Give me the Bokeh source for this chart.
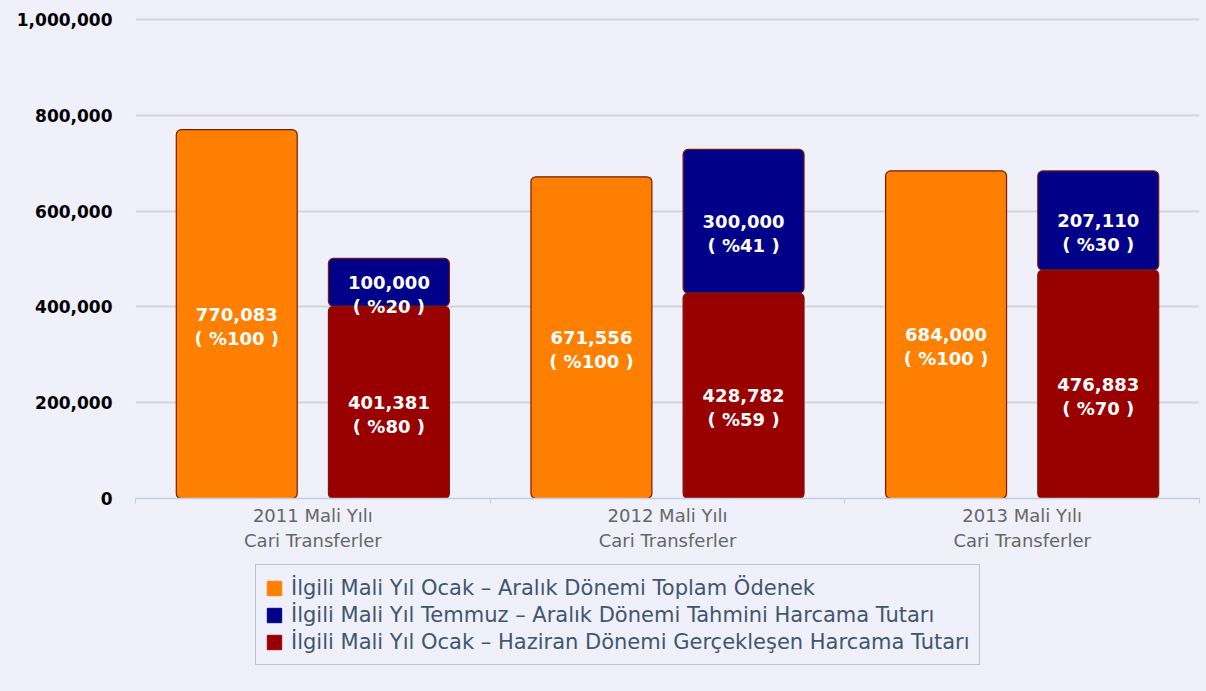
from bokeh.plotting import figure
from bokeh.layouts import column
from bokeh.models import (ColumnDataSource, FixedTicker, NumeralTickFormatter, Range1d,
                          Legend, LegendItem)
from bokeh.core.properties import value
from bokeh.embed import file_html
from bokeh.resources import INLINE

# ---- data ----
categories = ["2011 Mali Yılı\nCari Transferler", "2012 Mali Yılı\nCari Transferler", "2013 Mali Yılı\nCari Transferler"]
odenek = [770083, 671556, 684000]          # Ocak – Aralık Toplam Ödenek
tahmini = [100000, 300000, 207110]         # Temmuz – Aralık Tahmini Harcama
gerceklesen = [401381, 428782, 476883]     # Ocak – Haziran Gerçekleşen Harcama
pct_odenek = [100, 100, 100]
pct_tahmini = [20, 41, 30]
pct_gerceklesen = [80, 59, 70]
y_ticks = [0, 200000, 400000, 600000, 800000, 1000000]
series_names = [
    "İlgili Mali Yıl Ocak – Aralık Dönemi Toplam Ödenek",
    "İlgili Mali Yıl Temmuz – Aralık Dönemi Tahmini Harcama Tutarı",
    "İlgili Mali Yıl Ocak – Haziran Dönemi Gerçekleşen Harcama Tutarı",
]
colors = ["#FF7F00", "#000088", "#990000"]

BG = "#f0f0fa"
OFF = 0.2145
BW = 0.341
BORDER = "#7a1a0a"

n = len(categories)
centers = [i + 0.5 for i in range(n)]
x_left = [c - OFF for c in centers]
x_right = [c + OFF for c in centers]

src_o = ColumnDataSource(dict(x=x_left, top=odenek, bottom=[0]*n,
                              mid=[v / 2 for v in odenek],
                              t1=[f"{v:,}" for v in odenek],
                              t2=[f"( %{p} )" for p in pct_odenek]))
src_g = ColumnDataSource(dict(x=x_right, top=gerceklesen, bottom=[0]*n,
                              mid=[v / 2 for v in gerceklesen],
                              t1=[f"{v:,}" for v in gerceklesen],
                              t2=[f"( %{p} )" for p in pct_gerceklesen]))
tops_t = [g + t for g, t in zip(gerceklesen, tahmini)]
src_t = ColumnDataSource(dict(x=x_right, top=tops_t, bottom=gerceklesen,
                              mid=[g + t / 2 for g, t in zip(gerceklesen, tahmini)],
                              t1=[f"{v:,}" for v in tahmini],
                              t2=[f"( %{p} )" for p in pct_tahmini]))

# a little headroom above the top tick so its grid line is fully visible
p = figure(width=1206, height=560, output_backend="svg", toolbar_location=None,
           x_range=Range1d(0, n), y_range=Range1d(0, 1004200),
           min_border_left=135, min_border_right=7, min_border_top=17, min_border_bottom=62)

p.background_fill_color = None
p.border_fill_color = BG
p.outline_line_color = None

for s, c in ((src_o, colors[0]), (src_t, colors[1]), (src_g, colors[2])):
    p.vbar(x="x", top="top", bottom="bottom", width=BW, source=s, fill_color=c,
           line_color=BORDER, line_width=1.2, border_radius=5)

for s in (src_o, src_t, src_g):
    for col, yo in (("t1", 0), ("t2", 24)):
        p.text(x="x", y="mid", text=col, source=s, text_align="center", text_baseline="middle",
               y_offset=yo, text_color="white", text_font=value("DejaVu Sans"),
               text_font_style="bold", text_font_size="18px")

# y axis
p.yaxis.ticker = FixedTicker(ticks=y_ticks)
p.yaxis.formatter = NumeralTickFormatter(format="0,0")
p.yaxis.axis_line_color = None
p.yaxis.major_tick_line_color = None
p.yaxis.minor_tick_line_color = None
p.yaxis.major_label_standoff = 17
p.yaxis.major_label_text_font = "DejaVu Sans"
p.yaxis.major_label_text_font_style = "bold"
p.yaxis.major_label_text_font_size = "17px"
p.yaxis.major_label_text_color = "#000000"
p.ygrid.grid_line_color = "#d4d4dc"
p.ygrid.grid_line_width = 2

# x axis
p.xaxis.ticker = FixedTicker(ticks=centers, minor_ticks=list(range(n + 1)))
p.xaxis.major_label_overrides = {c: lab for c, lab in zip(centers, categories)}
p.xaxis.axis_line_color = "#C0D0E0"
p.xaxis.axis_line_width = 1.5
p.xaxis.major_tick_line_color = None
p.xaxis.minor_tick_line_color = "#C0D0E0"
p.xaxis.minor_tick_in = 0
p.xaxis.minor_tick_out = 5
p.xaxis.major_label_standoff = 0
p.xaxis.major_label_text_font = "DejaVu Sans"
p.xaxis.major_label_text_font_size = "18px"
p.xaxis.major_label_text_color = "#666666"
p.xgrid.grid_line_color = None

# legend panel (below the chart); its frame is aligned with the chart frame
q = figure(width=1206, height=131, output_backend="svg", toolbar_location=None,
           x_range=Range1d(0, 1), y_range=Range1d(0, 1), min_border=0)
q.axis.visible = False
q.grid.visible = False
q.background_fill_color = None
q.border_fill_color = BG
q.outline_line_color = None
legend_renderers = [q.vbar(x="x", top="top", width=0.1,
                           source=ColumnDataSource(dict(x=[-5], top=[-5])),
                           fill_color=c, line_color=c, line_width=1, border_radius=3)
                    for c in colors]
legend = Legend(items=[LegendItem(label=lab, renderers=[r])
                       for lab, r in zip(series_names, legend_renderers)],
                location=(120, 26), orientation="vertical",
                glyph_width=18, glyph_height=18, label_standoff=8, spacing=0,
                padding=9, margin=0,
                label_text_font="DejaVu Sans", label_text_font_size="21px",
                label_text_color="#3E576F", label_height=27,
                border_line_color="#909090", border_line_width=1.5,
                background_fill_alpha=0)
q.add_layout(legend, "center")

layout = column(p, q, spacing=0)
layout.styles = {"background-color": BG}
open("out.html", "w").write(file_html(layout, INLINE))
